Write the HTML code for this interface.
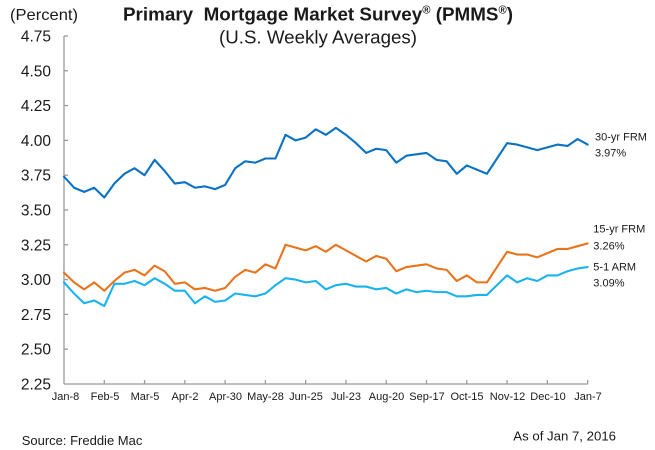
<!DOCTYPE html>
<html>
<head>
<meta charset="utf-8">
<style>
  html, body { margin: 0; padding: 0; background: #ffffff; }
  body { width: 655px; height: 450px; overflow: hidden; }
  svg { display: block; }
  text { font-family: "Liberation Sans", Arial, sans-serif; fill: #1a1a1a; }
</style>
</head>
<body>
<svg width="655" height="450" viewBox="0 0 655 450" xmlns="http://www.w3.org/2000/svg">
  <rect x="0" y="0" width="655" height="450" fill="#ffffff"/>

  <!-- Titles -->
  <text x="10" y="20" font-size="16" textLength="68" lengthAdjust="spacingAndGlyphs">(Percent)</text>
  <text x="318" y="20.5" font-size="18.5" font-weight="bold" text-anchor="middle" textLength="390" lengthAdjust="spacingAndGlyphs" xml:space="preserve">Primary  Mortgage Market Survey<tspan font-size="11" dy="-7">®</tspan><tspan dy="7"> (PMMS</tspan><tspan font-size="11" dy="-7">®</tspan><tspan dy="7">)</tspan></text>
  <text x="318" y="43.5" font-size="18.5" text-anchor="middle" textLength="198" lengthAdjust="spacingAndGlyphs">(U.S. Weekly Averages)</text>

  <!-- Y axis -->
  <g stroke="#9a9a9a" stroke-width="1.3" fill="none">
    <line x1="64" y1="36" x2="64" y2="384"/>
    <line x1="64" y1="384" x2="588" y2="384"/>
    <!-- y ticks -->
    <line x1="64" y1="36" x2="68" y2="36"/>
    <line x1="64" y1="70.8" x2="68" y2="70.8"/>
    <line x1="64" y1="105.6" x2="68" y2="105.6"/>
    <line x1="64" y1="140.4" x2="68" y2="140.4"/>
    <line x1="64" y1="175.2" x2="68" y2="175.2"/>
    <line x1="64" y1="210" x2="68" y2="210"/>
    <line x1="64" y1="244.8" x2="68" y2="244.8"/>
    <line x1="64" y1="279.6" x2="68" y2="279.6"/>
    <line x1="64" y1="314.4" x2="68" y2="314.4"/>
    <line x1="64" y1="349.2" x2="68" y2="349.2"/>
    <!-- x ticks -->
    <line x1="104.28" y1="380" x2="104.28" y2="384"/>
    <line x1="144.56" y1="380" x2="144.56" y2="384"/>
    <line x1="184.84" y1="380" x2="184.84" y2="384"/>
    <line x1="225.12" y1="380" x2="225.12" y2="384"/>
    <line x1="265.4" y1="380" x2="265.4" y2="384"/>
    <line x1="305.68" y1="380" x2="305.68" y2="384"/>
    <line x1="345.96" y1="380" x2="345.96" y2="384"/>
    <line x1="386.24" y1="380" x2="386.24" y2="384"/>
    <line x1="426.52" y1="380" x2="426.52" y2="384"/>
    <line x1="466.8" y1="380" x2="466.8" y2="384"/>
    <line x1="507.08" y1="380" x2="507.08" y2="384"/>
    <line x1="547.36" y1="380" x2="547.36" y2="384"/>
    <line x1="587.64" y1="380" x2="587.64" y2="384"/>
  </g>

  <!-- Y labels -->
  <g font-size="15.5" text-anchor="end">
    <text x="51" y="41.5">4.75</text>
    <text x="51" y="76.3">4.50</text>
    <text x="51" y="111.1">4.25</text>
    <text x="51" y="145.9">4.00</text>
    <text x="51" y="180.7">3.75</text>
    <text x="51" y="215.5">3.50</text>
    <text x="51" y="250.3">3.25</text>
    <text x="51" y="285.1">3.00</text>
    <text x="51" y="319.9">2.75</text>
    <text x="51" y="354.7">2.50</text>
    <text x="51" y="389.5">2.25</text>
  </g>

  <!-- X labels -->
  <g font-size="11" text-anchor="middle">
    <text x="65.5" y="400">Jan-8</text>
    <text x="105" y="400">Feb-5</text>
    <text x="145" y="400">Mar-5</text>
    <text x="185" y="400">Apr-2</text>
    <text x="225.5" y="400">Apr-30</text>
    <text x="265.5" y="400">May-28</text>
    <text x="306" y="400">Jun-25</text>
    <text x="346" y="400">Jul-23</text>
    <text x="386.5" y="400">Aug-20</text>
    <text x="427" y="400">Sep-17</text>
    <text x="467" y="400">Oct-15</text>
    <text x="507.5" y="400">Nov-12</text>
    <text x="548" y="400">Dec-10</text>
    <text x="588" y="400">Jan-7</text>
  </g>

  <!-- Series -->
  <g transform="translate(64,384) scale(10.07,-139.2) translate(0,-2.25)" fill="none" stroke-linejoin="round" stroke-linecap="round">
    <polyline vector-effect="non-scaling-stroke" stroke="#0a72c4" stroke-width="2.1" points="0,3.74 1,3.66 2,3.63 3,3.66 4,3.59 5,3.69 6,3.76 7,3.80 8,3.75 9,3.86 10,3.78 11,3.69 12,3.70 13,3.66 14,3.67 15,3.65 16,3.68 17,3.80 18,3.85 19,3.84 20,3.87 21,3.87 22,4.04 23,4.00 24,4.02 25,4.08 26,4.04 27,4.09 28,4.04 29,3.98 30,3.91 31,3.94 32,3.93 33,3.84 34,3.89 35,3.90 36,3.91 37,3.86 38,3.85 39,3.76 40,3.82 41,3.79 42,3.76 43,3.87 44,3.98 45,3.97 46,3.95 47,3.93 48,3.95 49,3.97 50,3.96 51,4.01 52,3.97"/>
    <polyline vector-effect="non-scaling-stroke" stroke="#e8741c" stroke-width="2.1" points="0,3.05 1,2.98 2,2.93 3,2.98 4,2.92 5,2.99 6,3.05 7,3.07 8,3.03 9,3.10 10,3.06 11,2.97 12,2.98 13,2.93 14,2.94 15,2.92 16,2.94 17,3.02 18,3.07 19,3.05 20,3.11 21,3.08 22,3.25 23,3.23 24,3.21 25,3.24 26,3.20 27,3.25 28,3.21 29,3.17 30,3.13 31,3.17 32,3.15 33,3.06 34,3.09 35,3.10 36,3.11 37,3.08 38,3.07 39,2.99 40,3.03 41,2.98 42,2.98 43,3.09 44,3.20 45,3.18 46,3.18 47,3.16 48,3.19 49,3.22 50,3.22 51,3.24 52,3.26"/>
    <polyline vector-effect="non-scaling-stroke" stroke="#1ab3ee" stroke-width="2.1" points="0,2.98 1,2.90 2,2.83 3,2.85 4,2.81 5,2.97 6,2.97 7,2.99 8,2.96 9,3.01 10,2.97 11,2.92 12,2.92 13,2.83 14,2.88 15,2.84 16,2.85 17,2.90 18,2.89 19,2.88 20,2.90 21,2.96 22,3.01 23,3.00 24,2.98 25,2.99 26,2.93 27,2.96 28,2.97 29,2.95 30,2.95 31,2.93 32,2.94 33,2.90 34,2.93 35,2.91 36,2.92 37,2.91 38,2.91 39,2.88 40,2.88 41,2.89 42,2.89 43,2.96 44,3.03 45,2.98 46,3.01 47,2.99 48,3.03 49,3.03 50,3.06 51,3.08 52,3.09"/>
  </g>

  <!-- Series labels -->
  <g font-size="11">
    <text x="595" y="140.7">30-yr FRM</text>
    <text x="595" y="156.7">3.97%</text>
    <text x="593.3" y="232.7">15-yr FRM</text>
    <text x="593.3" y="249.3">3.26%</text>
    <text x="593.3" y="270.7">5-1 ARM</text>
    <text x="593.3" y="286.3">3.09%</text>
  </g>

  <!-- Footer -->
  <text x="21.7" y="445" font-size="13">Source: Freddie Mac</text>
  <text x="513.3" y="440.7" font-size="13" textLength="102.7" lengthAdjust="spacingAndGlyphs">As of Jan 7, 2016</text>
</svg>
</body>
</html>
